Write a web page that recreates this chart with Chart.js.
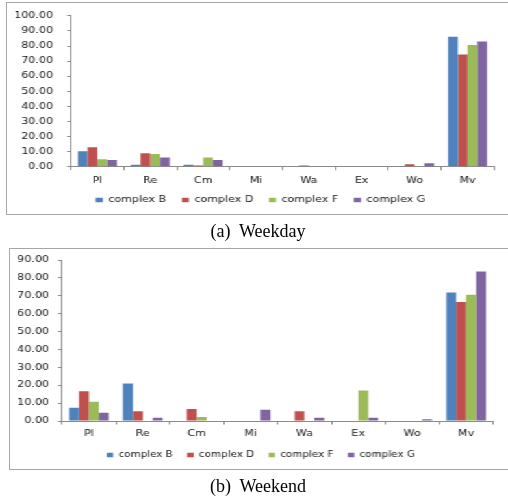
<!DOCTYPE html>
<html>
<head>
<meta charset="utf-8">
<script src="https://cdn.jsdelivr.net/npm/chart.js@4/dist/chart.umd.min.js"></script>
<style>
  html, body { margin: 0; padding: 0; background: #fff; width: 508px; height: 499px; overflow: hidden; }
  .frame { position: absolute; border: 1.5px solid #a6a6a6; box-sizing: border-box; }
  /* the two charts are drawn narrow and widened horizontally */
  #stage { position: absolute; left: 0; top: 0; width: 391px; height: 499px;
           transform: scaleX(1.2992); transform-origin: 0 0; }
  .box { position: absolute; left: 0; width: 391px; }
  .box canvas { display: block; }
  .cap { position: absolute; left: 4px; width: 508px; text-align: center; white-space: pre;
         font-family: "Liberation Serif", "Times New Roman", serif; font-size: 18px; color: #000; }
</style>
</head>
<body>
<div class="frame" style="left:6px;top:2px;width:510px;height:213px"></div>
<div class="frame" style="left:9px;top:248px;width:510px;height:222px"></div>
<div id="stage">
  <div class="box" style="top:0;height:216px"><canvas id="weekday" width="391" height="216"></canvas></div>
  <div class="box" style="top:248px;height:222px"><canvas id="weekend" width="391" height="222"></canvas></div>
</div>
<div class="cap" style="top:221px">(a)  Weekday</div>
<div class="cap" style="top:476px">(b)  Weekend</div>

<script>
// Activity categories and the four housing complexes
const categories = ['Pl', 'Re', 'Cm', 'Mi', 'Wa', 'Ex', 'Wo', 'Mv'];
const seriesNames = ['complex B', 'complex D', 'complex F', 'complex G'];
const seriesColors = ['#4F81BD', '#C0504D', '#9BBB59', '#8064A2'];

// Weekday shares (%)
const weekdayB = [10.3, 1.3, 1.3, 0, 0, 0, 0.5, 86.1];
const weekdayD = [13.0, 8.9, 0.9, 0, 0.9, 0, 1.7, 74.4];
const weekdayF = [4.9, 8.4, 6.2, 0, 0, 0, 0, 80.7];
const weekdayG = [4.4, 6.1, 4.4, 0, 0, 0, 2.4, 83.0];

// Weekend shares (%)
const weekendB = [7.4, 21.0, 0, 0, 0, 0, 0, 71.9];
const weekendD = [16.7, 5.4, 6.7, 0, 5.4, 0, 0, 66.6];
const weekendF = [10.7, 0, 2.3, 0, 0, 17.0, 0, 70.6];
const weekendG = [4.6, 1.8, 0, 6.3, 1.8, 1.8, 1.0, 83.6];

// Value axis ranges
const weekdayMax = 100;
const weekendMax = 90;
const tickStep = 10;

const AXIS = '#8a8a8a';
const TEXT = '#141414';
const FONT = 'DejaVu Sans, Verdana, sans-serif';

// Moves the legend sideways so it sits under the middle of the plot
const legendShift = {
  id: 'legendShift',
  afterLayout(chart, args, opts) {
    const lg = chart.legend;
    if (lg && opts.dx) { lg.left += opts.dx; lg.right += opts.dx; }
  }
};

function drawChart(id, seriesList, yMax, L) {
  return new Chart(document.getElementById(id), {
    type: 'bar',
    plugins: [legendShift],
    data: {
      labels: categories,
      datasets: seriesList.map((values, i) => ({
        label: seriesNames[i],
        data: values,
        backgroundColor: seriesColors[i],
        borderWidth: 0,
        categoryPercentage: 0.737,
        barPercentage: 1
      }))
    },
    options: {
      responsive: false,
      animation: false,
      devicePixelRatio: 1,
      layout: { padding: { left: 0, right: L.padR, top: L.padT, bottom: L.padB } },
      plugins: {
        tooltip: { enabled: false },
        legendShift: { dx: L.legDx },
        legend: {
          position: 'bottom',
          labels: {
            boxWidth: L.boxW, boxHeight: 4.5, padding: L.legPad,
            color: TEXT, font: { family: FONT, size: L.legFont }
          }
        }
      },
      scales: {
        x: {
          grid: { drawOnChartArea: false, tickLength: 3.5, color: AXIS, lineWidth: 1 },
          border: { color: AXIS, width: 1 },
          ticks: { padding: L.xPad, color: TEXT, font: { family: FONT, size: 8.5 }, maxRotation: 0 },
          afterFit(scale) { scale.height = L.xH; }
        },
        y: {
          min: 0, max: yMax,
          grid: { drawOnChartArea: false, tickLength: 3, color: AXIS, lineWidth: 1 },
          border: { color: AXIS, width: 1 },
          ticks: {
            stepSize: tickStep, padding: L.yPad, color: TEXT,
            font: { family: FONT, size: 8.5 },
            callback: v => Number(v).toFixed(2)
          },
          afterFit(scale) { scale.width = L.yW; }
        }
      }
    }
  });
}

drawChart('weekday', [weekdayB, weekdayD, weekdayF, weekdayG], weekdayMax, {
  padR: 10.8, padT: 12.5, padB: 1.75,
  yW: 54.6, xH: 17, yPad: 10.8, xPad: 5,
  legFont: 8.5, legPad: 12, boxW: 5.5, legDx: 10.4
});

drawChart('weekend', [weekendB, weekendD, weekendF, weekendG], weekendMax, {
  padR: 11.5, padT: 11, padB: 1,
  yW: 47.7, xH: 19, yPad: 7, xPad: 4.4,
  legFont: 8, legPad: 11, boxW: 5, legDx: 11
});
</script>
</body>
</html>
